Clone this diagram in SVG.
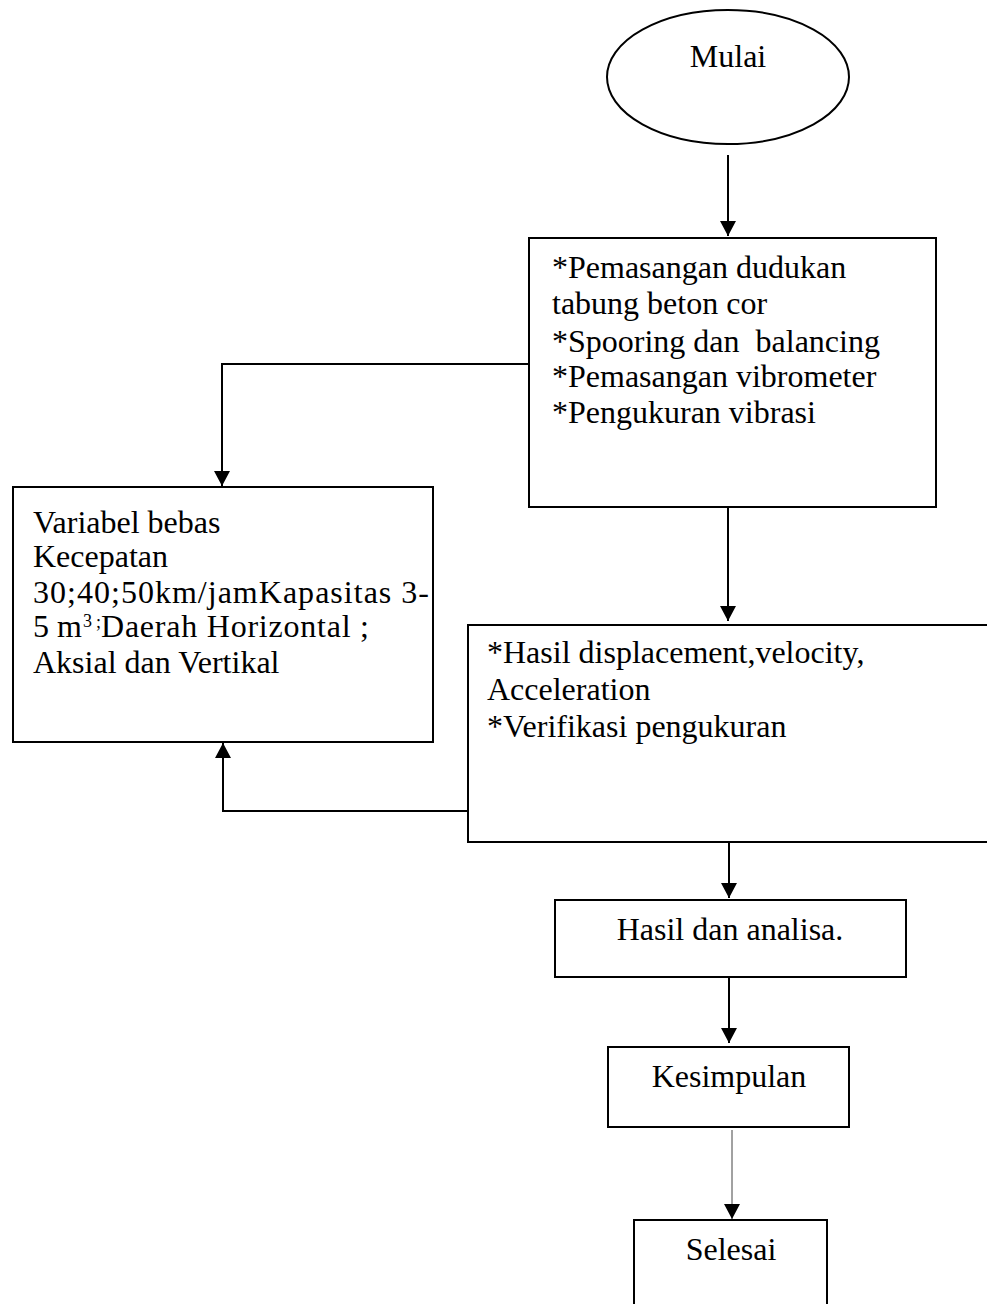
<svg xmlns="http://www.w3.org/2000/svg" width="987" height="1304" viewBox="0 0 987 1304">
<style>
  .shape { fill: #fff; stroke: #000; stroke-width: 2; }
  .txt { font-family: "Liberation Serif", "Times New Roman", serif; font-size: 32px; fill: #000; }
  .mid { text-anchor: middle; }
  .sup { font-size: 18px; }
  .conn { fill: none; stroke: #000; stroke-width: 2; }
  .thin { fill: none; stroke: #444; stroke-width: 1; }
</style>
<defs>
  <marker id="arrow" markerUnits="userSpaceOnUse" markerWidth="16" markerHeight="16" refX="15" refY="8" orient="auto">
    <path d="M0,0 L15,8 L0,16 z" fill="#000"/>
  </marker>
</defs>
<rect width="987" height="1304" fill="#fff"/>

<g id="connectors">
  <line class="conn" x1="728" y1="155" x2="728" y2="236" marker-end="url(#arrow)"/>
  <polyline class="conn" points="533,364 222,364 222,486" marker-end="url(#arrow)"/>
  <line class="conn" x1="728" y1="507" x2="728" y2="621" marker-end="url(#arrow)"/>
  <polyline class="conn" points="468,811 223,811 223,743" marker-end="url(#arrow)"/>
  <line class="conn" x1="729" y1="842" x2="729" y2="898" marker-end="url(#arrow)"/>
  <line class="conn" x1="729" y1="977" x2="729" y2="1043" marker-end="url(#arrow)"/>
  <line class="thin" x1="732" y1="1130" x2="732" y2="1219" marker-end="url(#arrow)"/>
</g>

<g id="mulai">
  <ellipse class="shape" cx="728" cy="77" rx="121" ry="67"/>
  <text class="txt mid" x="728" y="67">Mulai</text>
</g>

<g id="pemasangan">
  <rect class="shape" x="529" y="238" width="407" height="269"/>
  <text class="txt" x="552" y="278">*Pemasangan dudukan</text>
  <text class="txt" x="552" y="314">tabung beton cor</text>
  <text class="txt" x="552" y="352" xml:space="preserve">*Spooring dan  balancing</text>
  <text class="txt" x="552" y="387">*Pemasangan vibrometer</text>
  <text class="txt" x="552" y="423">*Pengukuran vibrasi</text>
</g>

<g id="variabel">
  <rect class="shape" x="13" y="487" width="420" height="255"/>
  <text class="txt" x="33" y="533">Variabel bebas</text>
  <text class="txt" x="33" y="567">Kecepatan</text>
  <text class="txt" x="33" y="603" textLength="396" lengthAdjust="spacing">30;40;50km/jamKapasitas 3-</text>
  <text class="txt" x="33" y="637">5 m<tspan class="sup" x="83" y="627">3</tspan> <tspan class="sup" x="96" y="628">;</tspan> <tspan x="101" y="637" textLength="268" lengthAdjust="spacing">Daerah Horizontal ;</tspan></text>
  <text class="txt" x="33" y="673">Aksial dan Vertikal</text>
</g>

<g id="hasil">
  <rect class="shape" x="468" y="625" width="530" height="217"/>
  <text class="txt" x="487" y="663">*Hasil displacement,velocity,</text>
  <text class="txt" x="487" y="700">Acceleration</text>
  <text class="txt" x="487" y="737">*Verifikasi pengukuran</text>
</g>

<g id="analisa">
  <rect class="shape" x="555" y="900" width="351" height="77"/>
  <text class="txt mid" x="730" y="940">Hasil dan analisa.</text>
</g>

<g id="kesimpulan">
  <rect class="shape" x="608" y="1047" width="241" height="80"/>
  <text class="txt mid" x="729" y="1087">Kesimpulan</text>
</g>

<g id="selesai">
  <rect class="shape" x="634" y="1220" width="193" height="100"/>
  <text class="txt mid" x="731" y="1260">Selesai</text>
</g>
</svg>
